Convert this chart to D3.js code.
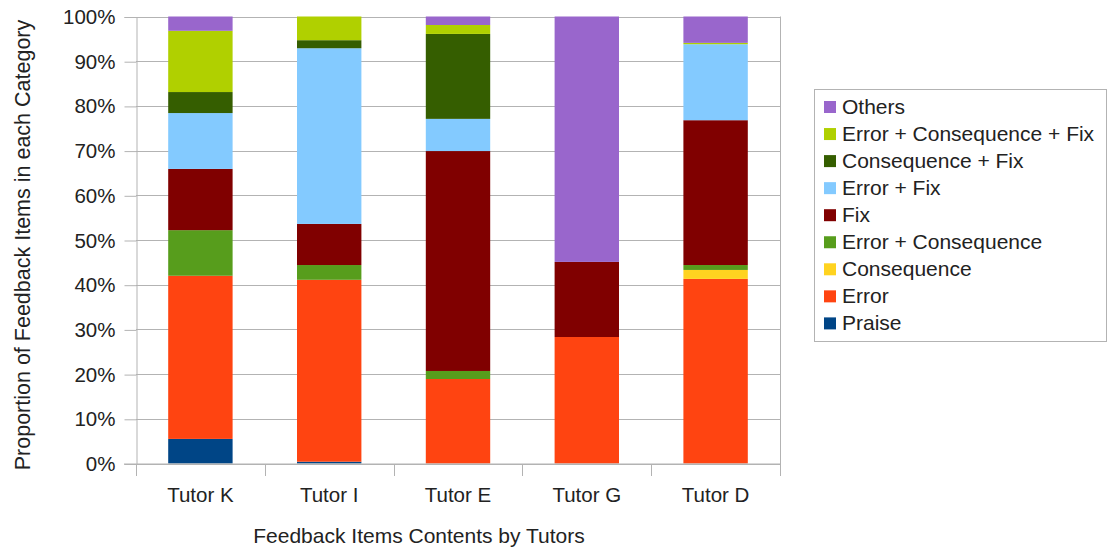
<!DOCTYPE html>
<html>
<head>
<meta charset="utf-8">
<script src="https://cdn.jsdelivr.net/npm/d3@7"></script>
<style>
  html, body { margin: 0; padding: 0; background: #fff; }
  svg { display: block; font-family: "Liberation Sans", Arial, sans-serif; }
</style>
</head>
<body>
<svg id="chart" width="1108" height="553"></svg>
<script>
// Tutors along the x axis
const tutors = ["Tutor K", "Tutor I", "Tutor E", "Tutor G", "Tutor D"];

// Feedback categories, bottom of the stack first
const categories = [
  "Praise", "Error", "Consequence", "Error + Consequence", "Fix",
  "Error + Fix", "Consequence + Fix", "Error + Consequence + Fix", "Others"
];

// Percentage of each tutor's feedback items per category (same order as tutors)
const praise          = [5.5, 0.4, 0.0, 0.0, 0.0];
const error           = [36.5, 40.7, 18.9, 28.3, 41.3];
const consequence     = [0.0, 0.0, 0.0, 0.0, 2.0];
const errorConseq     = [10.2, 3.3, 1.8, 0.0, 1.1];
const fix             = [13.7, 9.2, 49.2, 16.8, 32.4];
const errorFix        = [12.5, 39.3, 7.2, 0.0, 17.0];
const conseqFix       = [4.7, 1.8, 19.0, 0.0, 0.0];
const errorConseqFix  = [13.7, 5.3, 2.0, 0.0, 0.3];
const others          = [3.2, 0.0, 1.9, 54.9, 5.9];

const seriesValues = [praise, error, consequence, errorConseq, fix,
                      errorFix, conseqFix, errorConseqFix, others];

const yTicks = [0, 10, 20, 30, 40, 50, 60, 70, 80, 90, 100];

const colors = ["#004586", "#ff4411", "#ffd320", "#579d1c", "#800000",
                "#83caff", "#355e00", "#b0d000", "#9966cc"];

// Build rows for d3.stack
const rows = tutors.map((t, i) => {
  const r = { tutor: t };
  categories.forEach((c, k) => { r[c] = seriesValues[k][i]; });
  return r;
});

const svg = d3.select("#chart");
const plotLeft = 136, plotRight = 780, plotTop = 16.5, plotBottom = 463.5;
const textColor = "#222";
const gridColor = "#b3b3b3";

const x = d3.scaleBand().domain(tutors).range([plotLeft, plotRight])
  .paddingInner(0.5).paddingOuter(0.25);
const y = d3.scaleLinear().domain([0, 100]).range([plotBottom, plotTop]);

// Horizontal gridlines
svg.append("g").selectAll("line").data(yTicks).join("line")
  .attr("x1", plotLeft).attr("x2", plotRight)
  .attr("y1", d => Math.round(y(d)) + 0.5).attr("y2", d => Math.round(y(d)) + 0.5)
  .attr("stroke", gridColor).attr("stroke-width", 1);

// Right border of plot area
svg.append("line")
  .attr("x1", plotRight + 0.5).attr("x2", plotRight + 0.5)
  .attr("y1", plotTop).attr("y2", plotBottom + 12)
  .attr("stroke", gridColor);

// Stacked bars
const stacked = d3.stack().keys(categories)(rows);
svg.append("g").selectAll("g").data(stacked).join("g")
  .attr("fill", (d, i) => colors[i])
  .selectAll("rect").data(d => d).join("rect")
  .attr("x", d => x(d.data.tutor))
  .attr("width", x.bandwidth())
  .attr("y", d => y(d[1]))
  .attr("height", d => Math.max(0, y(d[0]) - y(d[1])));

// Y axis
const yAxis = d3.axisLeft(y).tickValues(yTicks).tickFormat(d => d + "%")
  .tickSize(12).tickPadding(9);
const gy = svg.append("g").attr("transform", `translate(${plotLeft + 0.5},0.5)`).call(yAxis);
gy.select(".domain").attr("stroke", gridColor);
gy.selectAll(".tick line").attr("stroke", gridColor);
gy.selectAll(".tick text").attr("font-size", 20.5).attr("fill", textColor)
  .attr("font-family", "Liberation Sans, Arial, sans-serif");

// X axis: ticks sit on band boundaries, labels centred under bars
const gx = svg.append("g").attr("transform", `translate(0,${plotBottom + 0.5})`);
gx.append("line").attr("x1", plotLeft - 12).attr("x2", plotRight)
  .attr("stroke", gridColor);
const boundaries = tutors.map((t, i) => plotLeft + i * x.step()).concat([plotRight]);
gx.selectAll("line.tk").data(boundaries).join("line").attr("class", "tk")
  .attr("x1", d => Math.round(d) + 0.5).attr("x2", d => Math.round(d) + 0.5)
  .attr("y1", 0).attr("y2", 12).attr("stroke", gridColor);
gx.selectAll("text").data(tutors).join("text")
  .attr("x", d => x(d) + x.bandwidth() / 2)
  .attr("y", 38)
  .attr("text-anchor", "middle")
  .attr("font-size", 20.5).attr("fill", textColor)
  .text(d => d);

// Axis titles
svg.append("text")
  .attr("x", 419).attr("y", 543)
  .attr("text-anchor", "middle").attr("font-size", 21).attr("fill", textColor)
  .text("Feedback Items Contents by Tutors");
svg.append("text")
  .attr("transform", `translate(30,245) rotate(-90)`)
  .attr("text-anchor", "middle").attr("font-size", 21.5).attr("fill", textColor)
  .text("Proportion of Feedback Items in each Category");

// Legend, top entry is the top of the stack
const legend = svg.append("g");
legend.append("rect")
  .attr("x", 814.5).attr("y", 89.5).attr("width", 292).attr("height", 252)
  .attr("fill", "#fff").attr("stroke", gridColor);
const legendItems = categories.map((c, i) => ({ name: c, color: colors[i] })).reverse();
const li = legend.selectAll("g.item").data(legendItems).join("g").attr("class", "item")
  .attr("transform", (d, i) => `translate(0,${i * 27.05})`);
li.append("rect")
  .attr("x", 824).attr("y", 101).attr("width", 12).attr("height", 12)
  .attr("fill", d => d.color);
li.append("text")
  .attr("x", 842).attr("y", 114)
  .attr("font-size", 21).attr("fill", textColor)
  .text(d => d.name);
</script>
</body>
</html>
